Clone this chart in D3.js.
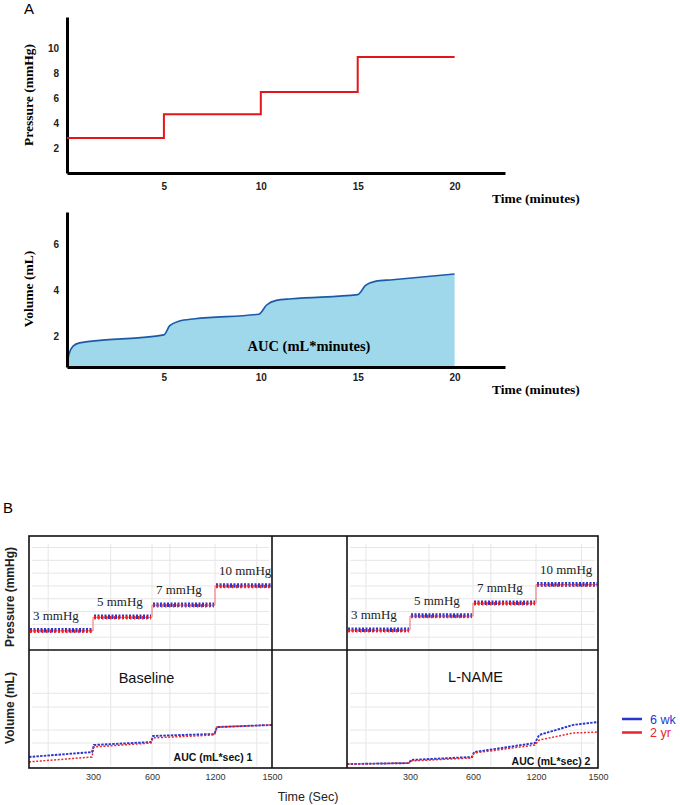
<!DOCTYPE html>
<html>
<head>
<meta charset="utf-8">
<script src="https://cdn.jsdelivr.net/npm/d3@7"></script>
<style>
  body { margin: 0; background: #fff; }
  svg { display: block; }
</style>
</head>
<body>
<div id="chart"></div>
<script>
// ---- Panel A: protocol schematic ----
const stepMinutes = [0, 5, 10, 15, 20];
const stepPressure = [2.8, 4.7, 6.5, 9.3, 9.3];
const volMinutes = [0, 0.1, 0.3, 0.65, 5, 5.3, 5.8, 6.6, 9.9, 10.3, 10.8, 11.6, 15, 15.4, 15.9, 16.8, 20];
const volValues  = [0.65, 1.2, 1.55, 1.7, 2.05, 2.45, 2.65, 2.75, 2.95, 3.35, 3.55, 3.62, 3.8, 4.2, 4.38, 4.45, 4.7];
const minuteTicks = [5, 10, 15, 20];
const pressureTicksA = [2, 4, 6, 8, 10];
const volumeTicksA = [2, 4, 6];

// ---- Panel B: recorded traces ----
const timeTicks = [300, 600, 1200, 1500];
const stageStarts = [0, 300, 600, 1200];
const stageEnds = [300, 600, 1200, 1500];
const stageLabels = ['3 mmHg', '5 mmHg', '7 mmHg', '10 mmHg'];
const baselinePressure = [3.0, 5.1, 7.0, 10.0];
const lnamePressure = [3.1, 5.3, 7.3, 10.2];
const baselineTimes = [0, 295, 305, 595, 610, 1195, 1210, 1500];
const baseline6wk = [0.56, 0.81, 1.17, 1.32, 1.63, 1.73, 2.08, 2.19];
const baseline2yr = [0.31, 0.56, 1.07, 1.27, 1.53, 1.68, 2.08, 2.19];
const lnameTimes = [0, 295, 305, 595, 610, 1190, 1215, 1380, 1500];
const lname6wk = [0.2, 0.25, 0.41, 0.56, 0.81, 1.27, 1.68, 2.19, 2.34];
const lname2yr = [0.2, 0.25, 0.36, 0.51, 0.76, 1.17, 1.42, 1.78, 1.83];
const groups = ['6 wk', '2 yr'];
const groupColors = ['#2a35d0', '#e8262b'];
const gridTimes = [90, 390, 600, 770, 1200, 1420];
const gridPressure = [2, 4, 6, 8, 10, 12, 14, 16];
const gridVolume = [1.27, 1.93, 3.1, 3.8];

const SANS = 'Liberation Sans, Arial, sans-serif';
const SERIF = 'Liberation Serif, Times New Roman, serif';

let svg = d3.select('#chart').append('svg')
    .attr('width', 680)
    .attr('height', 805);
svg.append('rect').attr('width', 680).attr('height', 805).attr('fill', '#fff');

// ================= Panel A =================
let xA = d3.scaleLinear().domain([0, 22.6]).range([67, 505]);
let yP = d3.scaleLinear().domain([0, 12.5]).range([173, 17]);
let yV = d3.scaleLinear().domain([0.65, 7.4]).range([367, 212]);
let intFmt = d3.format('d');

function styleA(g) {
    g.select('.domain').attr('stroke', '#000').attr('stroke-width', 3);
    g.selectAll('.tick line').remove();
    g.selectAll('text')
        .attr('font-family', SANS)
        .attr('font-weight', 'bold')
        .attr('font-size', 10)
        .attr('fill', '#222');
}

// top: pressure steps
svg.append('g')
    .attr('transform', 'translate(0,173)')
    .call(d3.axisBottom(xA).tickValues(minuteTicks).tickFormat(intFmt).tickSize(0).tickPadding(10))
    .call(styleA);
svg.append('g')
    .attr('transform', 'translate(67,0)')
    .call(d3.axisLeft(yP).tickValues(pressureTicksA).tickFormat(intFmt).tickSize(0).tickPadding(8))
    .call(styleA);

let stepLine = d3.line()
    .x(function(d, i) { return xA(stepMinutes[i]); })
    .y(function(d) { return yP(d); })
    .curve(d3.curveStepAfter);

svg.append('path')
    .datum(stepPressure)
    .attr('fill', 'none')
    .attr('stroke', '#e3161b')
    .attr('stroke-width', 2)
    .attr('d', stepLine);

// bottom: volume with AUC
let volArea = d3.area()
    .x(function(d, i) { return xA(volMinutes[i]); })
    .y0(yV(0.65))
    .y1(function(d) { return yV(d); })
    .curve(d3.curveMonotoneX);
let volLine = d3.line()
    .x(function(d, i) { return xA(volMinutes[i]); })
    .y(function(d) { return yV(d); })
    .curve(d3.curveMonotoneX);

svg.append('path')
    .datum(volValues)
    .attr('fill', '#9fd8eb')
    .attr('d', volArea);
svg.append('path')
    .datum(volValues)
    .attr('fill', 'none')
    .attr('stroke', '#1c5aa8')
    .attr('stroke-width', 1.6)
    .attr('d', volLine);

svg.append('g')
    .attr('transform', 'translate(0,367)')
    .call(d3.axisBottom(xA).tickValues(minuteTicks).tickFormat(intFmt).tickSize(0).tickPadding(7))
    .call(styleA);
svg.append('g')
    .attr('transform', 'translate(67,0)')
    .call(d3.axisLeft(yV).tickValues(volumeTicksA).tickFormat(intFmt).tickSize(0).tickPadding(8))
    .call(styleA);

// panel A text
svg.append('text').attr('x', 24).attr('y', 14)
    .attr('font-family', SANS).attr('font-size', 15).text('A');
svg.append('text')
    .attr('transform', 'translate(33,95) rotate(-90)')
    .attr('text-anchor', 'middle')
    .attr('font-family', SERIF).attr('font-weight', 'bold').attr('font-size', 13.5)
    .text('Pressure (mmHg)');
svg.append('text')
    .attr('transform', 'translate(33,289) rotate(-90)')
    .attr('text-anchor', 'middle')
    .attr('font-family', SERIF).attr('font-weight', 'bold').attr('font-size', 13.5)
    .text('Volume (mL)');
[203, 394].forEach(function(yy) {
    svg.append('text').attr('x', 492).attr('y', yy)
        .attr('font-family', SERIF).attr('font-weight', 'bold').attr('font-size', 13.5)
        .text('Time (minutes)');
});
svg.append('text').attr('x', 309).attr('y', 351)
    .attr('text-anchor', 'middle')
    .attr('font-family', SERIF).attr('font-weight', 'bold').attr('font-size', 14.5)
    .text('AUC (mL*minutes)');

// ================= Panel B =================
let topB = 536, midB = 650, bottomB = 768;
let yPB = d3.scaleLinear().domain([0, 17.8]).range([midB, topB]);
let yVB = d3.scaleLinear().domain([0, 6]).range([bottomB, midB]);

let panels = [
    {
        name: 'Baseline',
        x: d3.scaleLinear().domain([0, 300, 600, 1200, 1500]).range([29, 93, 152, 215, 272]),
        pressure: baselinePressure,
        times: baselineTimes,
        volumes: [baseline6wk, baseline2yr],
        auc: 'AUC (mL*sec) 1',
        titleY: 683,
        aucX: 213, aucY: 761
    },
    {
        name: 'L-NAME',
        x: d3.scaleLinear().domain([0, 300, 600, 1200, 1500]).range([347, 410, 473, 536, 598]),
        pressure: lnamePressure,
        times: lnameTimes,
        volumes: [lname6wk, lname2yr],
        auc: 'AUC (mL*sec) 2',
        titleY: 682,
        aucX: 551, aucY: 765
    }
];

panels.forEach(function(p) {
    let x = p.x;
    let x0 = x.range()[0], x1 = x.range()[x.range().length - 1];
    let g = svg.append('g');

    // faint grid
    g.selectAll('.vgrid').data(gridTimes).enter().append('line')
        .attr('x1', function(d) { return x(d); })
        .attr('x2', function(d) { return x(d); })
        .attr('y1', topB + 8).attr('y2', bottomB - 2)
        .attr('stroke', '#e6e6e6').attr('stroke-width', 1);
    g.selectAll('.pgrid').data(gridPressure).enter().append('line')
        .attr('x1', x0 + 3).attr('x2', x1 - 3)
        .attr('y1', function(d) { return yPB(d); })
        .attr('y2', function(d) { return yPB(d); })
        .attr('stroke', '#e6e6e6').attr('stroke-width', 1);
    g.selectAll('.vvgrid').data(gridVolume).enter().append('line')
        .attr('x1', x0 + 3).attr('x2', x1 - 3)
        .attr('y1', function(d) { return yVB(d); })
        .attr('y2', function(d) { return yVB(d); })
        .attr('stroke', '#e6e6e6').attr('stroke-width', 1);

    // pressure traces: thin step connector, then noisy-looking bands per stage
    let pts = stageStarts.map(function(t, i) { return [t, p.pressure[i]]; });
    pts.push([1500, p.pressure[p.pressure.length - 1]]);
    let pLine = d3.line()
        .x(function(d) { return x(d[0]); })
        .y(function(d) { return yPB(d[1]); })
        .curve(d3.curveStepAfter);
    g.append('path').datum(pts)
        .attr('fill', 'none').attr('stroke', '#f06a6a')
        .attr('stroke-width', 1)
        .attr('d', pLine);
    let stages = g.selectAll('.stageband').data(p.pressure).enter();
    stages.append('line')
        .attr('x1', function(d, i) { return x(stageStarts[i]) + 1; })
        .attr('x2', function(d, i) { return x(stageEnds[i]) - 1; })
        .attr('y1', function(d) { return yPB(d) - 0.5; })
        .attr('y2', function(d) { return yPB(d) - 0.5; })
        .attr('stroke', groupColors[0]).attr('stroke-width', 4.5)
        .attr('stroke-dasharray', '2,1.5');
    stages.append('line')
        .attr('x1', function(d, i) { return x(stageStarts[i]) + 1; })
        .attr('x2', function(d, i) { return x(stageEnds[i]) - 1; })
        .attr('y1', function(d) { return yPB(d) + 0.5; })
        .attr('y2', function(d) { return yPB(d) + 0.5; })
        .attr('stroke', groupColors[1]).attr('stroke-width', 3.5)
        .attr('stroke-dasharray', '1.5,2.5');

    g.selectAll('.stage').data(stageLabels).enter().append('text')
        .attr('x', function(d, i) { return x(stageStarts[i]) + 4; })
        .attr('y', function(d, i) { return yPB(p.pressure[i]) - 11; })
        .attr('font-family', SERIF).attr('font-size', 13).attr('fill', '#222')
        .text(function(d) { return d; });

    // volume traces
    let vLine = d3.line()
        .x(function(d, i) { return x(p.times[i]); })
        .y(function(d) { return yVB(d); });
    p.volumes.forEach(function(vals, k) {
        g.append('path').datum(vals)
            .attr('fill', 'none').attr('stroke', groupColors[k])
            .attr('stroke-width', k === 0 ? 1.9 : 1.5)
            .attr('stroke-dasharray', k === 0 ? '2.5,1.2' : '2,1.6')
            .attr('d', vLine);
    });

    g.append('text').attr('x', (x0 + x1) / 2 + (p.name === 'Baseline' ? -4 : 3)).attr('y', p.titleY)
        .attr('text-anchor', 'middle')
        .attr('font-family', SANS).attr('font-size', 14.5).attr('fill', '#111')
        .text(p.name);
    g.append('text').attr('x', p.aucX).attr('y', p.aucY)
        .attr('text-anchor', 'middle')
        .attr('font-family', SANS).attr('font-weight', 'bold').attr('font-size', 10.5).attr('fill', '#111')
        .text(p.auc);

    // time axis labels
    let ax = svg.append('g')
        .attr('transform', 'translate(0,' + bottomB + ')')
        .call(d3.axisBottom(x).tickValues(timeTicks).tickFormat(intFmt).tickSize(0).tickPadding(6));
    ax.select('.domain').remove();
    ax.selectAll('text').attr('font-family', SANS).attr('font-size', 9).attr('fill', '#333');
});

// frame
let frame = svg.append('g').attr('fill', 'none').attr('stroke', '#111').attr('stroke-width', 1.6);
frame.append('rect').attr('x', 29).attr('y', topB).attr('width', 598 - 29).attr('height', bottomB - topB);
[272, 347].forEach(function(xx) {
    frame.append('line').attr('x1', xx).attr('x2', xx).attr('y1', topB).attr('y2', bottomB);
});
frame.append('line').attr('x1', 29).attr('x2', 598).attr('y1', midB).attr('y2', midB);

// panel B text
svg.append('text').attr('x', 3).attr('y', 513)
    .attr('font-family', SANS).attr('font-size', 15).text('B');
svg.append('text')
    .attr('transform', 'translate(14,597) rotate(-90)')
    .attr('text-anchor', 'middle')
    .attr('font-family', SANS).attr('font-weight', 'bold').attr('font-size', 12).attr('fill', '#222')
    .text('Pressure (mmHg)');
svg.append('text')
    .attr('transform', 'translate(14,708) rotate(-90)')
    .attr('text-anchor', 'middle')
    .attr('font-family', SANS).attr('font-weight', 'bold').attr('font-size', 12).attr('fill', '#222')
    .text('Volume (mL)');
svg.append('text').attr('x', 308).attr('y', 801)
    .attr('text-anchor', 'middle')
    .attr('font-family', SANS).attr('font-size', 12.5).attr('fill', '#222')
    .text('Time (Sec)');

// legend
let legend = svg.append('g');
groups.forEach(function(name, i) {
    let yy = 719 + i * 13.5;
    legend.append('line').attr('x1', 622).attr('x2', 642).attr('y1', yy).attr('y2', yy)
        .attr('stroke', groupColors[i]).attr('stroke-width', 2.5);
    legend.append('text').attr('x', 650).attr('y', yy + 4.5)
        .attr('font-family', SANS).attr('font-size', 12.5).attr('fill', groupColors[i])
        .text(name);
});
</script>
</body>
</html>
